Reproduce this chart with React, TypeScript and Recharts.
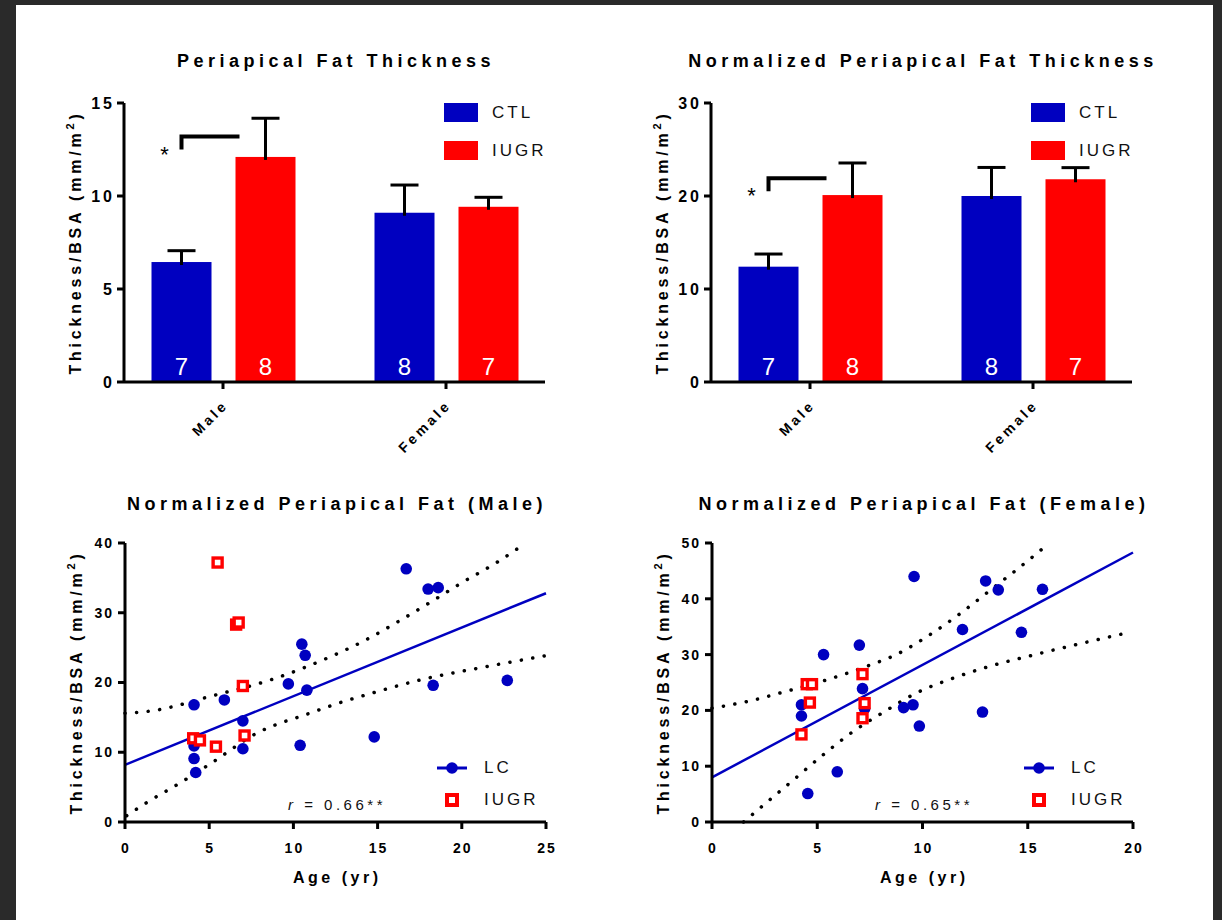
import React from "react";
import {
  BarChart,
  Bar,
  ComposedChart,
  Line,
  Scatter,
  XAxis,
  YAxis,
  Legend,
  LabelList,
} from "recharts";

const FONT = '"Liberation Sans", Arial, Helvetica, sans-serif';
const BLUE = "#0000c0";
const RED = "#ff0000";

// ---- bar panels ----
const groups = ["Male", "Female"];
const nCtl = [7, 8];
const nIugr = [8, 7];

const periCtl = [6.45, 9.1];
const periCtlSem = [0.61, 1.49];
const periIugr = [12.1, 9.42];
const periIugrSem = [2.08, 0.51];
const periSig = [12.5, 13.2]; // bracket bottom / top

const normCtl = [12.4, 20.0];
const normCtlSem = [1.36, 3.07];
const normIugr = [20.1, 21.8];
const normIugrSem = [3.45, 1.25];
const normSig = [20.5, 21.9];

// ---- scatter panels (age yr, thickness/BSA) ----
const lcMaleAge = [4.1, 4.1, 4.1, 4.2, 5.9, 7.0, 7.0, 9.7, 10.5, 10.7, 10.8, 10.4, 16.7, 18.0, 18.6, 18.3, 22.7, 14.8];
const lcMaleFat = [16.8, 10.9, 9.1, 7.1, 17.5, 14.5, 10.5, 19.8, 25.5, 23.9, 18.9, 11.0, 36.3, 33.4, 33.6, 19.6, 20.3, 12.2];
const iugrMaleAge = [5.5, 6.6, 6.75, 7.0, 4.05, 4.45, 5.4, 7.1];
const iugrMaleFat = [37.2, 28.3, 28.6, 19.5, 12.0, 11.7, 10.8, 12.4];

const lcFemaleAge = [4.25, 4.25, 4.55, 5.3, 5.95, 7.0, 7.15, 7.25, 9.1, 9.55, 9.6, 9.85, 11.9, 12.85, 13.0, 13.6, 14.7, 15.7];
const lcFemaleFat = [21.0, 19.0, 5.1, 30.0, 9.0, 31.7, 23.9, 20.3, 20.5, 21.0, 44.0, 17.2, 34.5, 19.7, 43.2, 41.6, 34.0, 41.7];
const iugrFemaleAge = [4.25, 4.65, 4.5, 4.75, 7.15, 7.25, 7.15];
const iugrFemaleFat = [15.7, 21.4, 24.7, 24.7, 26.5, 21.3, 18.6];

// regression lines and 95% bands
const fitMaleX = [0, 25];
const fitMaleY = [8.2, 32.8];
const upMaleX = [0, 1.5, 5.2, 8.8, 12.2, 14.3, 16.2, 18.2, 20, 22, 23.8];
const upMaleY = [15.6, 15.9, 18.1, 20.5, 23.7, 26.1, 28.7, 31.6, 34.3, 37.1, 40];
const loMaleX = [0.1, 1.3, 3.2, 5.1, 7.8, 11.1, 12.5, 14.7, 17.6, 21.3, 24.9];
const loMaleY = [0.9, 2.8, 5.5, 8.4, 12.7, 15.7, 16.9, 18.5, 20.4, 22.2, 23.8];

const fitFemaleX = [0, 20];
const fitFemaleY = [8.0, 48.3];
const upFemaleX = [0, 1.8, 3.6, 5.3, 7.5, 8.7, 10.2, 11.7, 13.1, 14.5, 15.9];
const upFemaleY = [20.4, 21.7, 23.5, 25.3, 28.1, 29.9, 33.2, 37.1, 41.2, 45.3, 49.6];
const loFemaleX = [1.5, 2.5, 3.9, 5.2, 6.7, 8.2, 9.7, 11.4, 13.1, 15.4, 17.2, 19.5];
const loFemaleY = [0, 3.2, 7.65, 11.8, 16.2, 19.8, 23.1, 25.7, 27.8, 30.05, 31.7, 33.7];

const pts = (xs: number[], ys: number[]) => xs.map((x, i) => ({ x, y: ys[i] }));

const barRows = (ctl: number[], ctlSem: number[], iugr: number[], iugrSem: number[]) =>
  groups.map((g, i) => ({
    group: g,
    ctl: ctl[i],
    ctlSem: ctlSem[i],
    iugr: iugr[i],
    iugrSem: iugrSem[i],
    nCtl: nCtl[i],
    nIugr: nIugr[i],
  }));

const MARGIN = { top: 103, right: 55, bottom: 18, left: 64 };
const axisStroke = { stroke: "#000", strokeWidth: 3 };

// bar with one-sided SEM whisker (and optional significance bracket)
const barShape = (valueKey: string, semKey: string, sig?: number[]) => (props: any) => {
  const { x, y, width, height, fill, payload, index } = props;
  const ppu = height / payload[valueKey];
  const cx = x + width / 2;
  const top = y - payload[semKey] * ppu;
  const base = y + height;
  return (
    <g>
      <rect x={x} y={y} width={width} height={height} fill={fill} />
      <line x1={cx} y1={y + 3} x2={cx} y2={top} stroke="#000" strokeWidth={3} />
      <line x1={cx - 14} y1={top} x2={cx + 14} y2={top} stroke="#000" strokeWidth={3} />
      {sig && index === 0 && (
        <g>
          <path
            d={`M${cx},${base - sig[0] * ppu} V${base - sig[1] * ppu} H${x + width + 28}`}
            fill="none"
            stroke="#000"
            strokeWidth={4}
          />
          <text
            x={cx - 17}
            y={base - sig[0] * ppu + 12}
            textAnchor="middle"
            fontFamily={FONT}
            fontSize={22}
            fill="#000">
            *
          </text>
        </g>
      )}
    </g>
  );
};

const CatTick = (props: any) => {
  const { x, y, payload } = props;
  const ax = x + 6;
  const ay = y + 15;
  return (
    <text
      x={ax}
      y={ay}
      transform={`rotate(-45 ${ax} ${ay})`}
      textAnchor="end"
      fontFamily={FONT}
      fontWeight="bold"
      fontSize={14}
      letterSpacing={3.2}
      fill="#000">
      {payload.value}
    </text>
  );
};

const yTick = (size: number, ls: number) => (props: any) => {
  const { x, y, payload } = props;
  return (
    <text
      x={x}
      y={y}
      dy="0.355em"
      textAnchor="end"
      fontFamily={FONT}
      fontWeight="bold"
      fontSize={size}
      letterSpacing={ls}
      fill="#000">
      {payload.value}
    </text>
  );
};

const XNumTick = (props: any) => {
  const { x, y, payload } = props;
  return (
    <text
      x={x + 1}
      y={y}
      dy="0.71em"
      textAnchor="middle"
      fontFamily={FONT}
      fontWeight="bold"
      fontSize={14}
      letterSpacing={2}
      fill="#000">
      {payload.value}
    </text>
  );
};

const yTitle = (props: any) => {
  const { x, y, width, height } = props.viewBox;
  const cx = x + width - 49;
  const cy = y + height / 2;
  return (
    <text
      x={cx}
      y={cy}
      dy="0.36em"
      transform={`rotate(-90 ${cx} ${cy})`}
      textAnchor="middle"
      fontFamily={FONT}
      fontWeight="bold"
      fontSize={16}
      letterSpacing={3.8}
      fill="#000">
      Thickness/BSA (mm/m
      <tspan dy={-7} fontSize={11}>
        2
      </tspan>
      <tspan dy={7}>)</tspan>
    </text>
  );
};

const xTitle = (props: any) => {
  const { x, y, width } = props.viewBox;
  return (
    <text
      x={x + width / 2 + 1.75}
      y={y + 61}
      textAnchor="middle"
      fontFamily={FONT}
      fontWeight="bold"
      fontSize={16}
      letterSpacing={3.5}
      fill="#000">
      Age (yr)
    </text>
  );
};

const barLegend = () => (
  <div style={{ fontFamily: FONT, fontSize: 17, letterSpacing: 3, color: "#111" }}>
    {[
      { name: "CTL", color: BLUE },
      { name: "IUGR", color: RED },
    ].map((it) => (
      <div
        key={it.name}
        style={{ display: "flex", alignItems: "center", height: 19, marginBottom: 19 }}>
        <span
          style={{
            display: "inline-block",
            width: 34,
            height: 19,
            background: it.color,
            marginRight: 14,
          }}
        />
        <span>{it.name}</span>
      </div>
    ))}
  </div>
);

const scatterLegend = () => (
  <div style={{ fontFamily: FONT, fontSize: 17, letterSpacing: 3, color: "#111" }}>
    <div style={{ display: "flex", alignItems: "center", height: 20, marginBottom: 12 }}>
      <svg width={30} height={14} style={{ marginRight: 17 }}>
        <line x1={0} y1={7} x2={30} y2={7} stroke={BLUE} strokeWidth={3} />
        <circle cx={15} cy={7} r={5.8} fill={BLUE} />
      </svg>
      <span>LC</span>
    </div>
    <div style={{ display: "flex", alignItems: "center", height: 20 }}>
      <svg width={30} height={16} style={{ marginRight: 17 }}>
        <rect x={10} y={3} width={10} height={10} fill="#fff" stroke={RED} strokeWidth={4} />
      </svg>
      <span>IUGR</span>
    </div>
  </div>
);

const LcDot = (p: any) => <circle cx={p.cx} cy={p.cy} r={5.8} fill={BLUE} />;
const IugrSquare = (p: any) => (
  <rect x={p.cx - 4.5} y={p.cy - 4.5} width={9} height={9} fill="#fff" stroke={RED} strokeWidth={3.4} />
);

function Panel(props: {
  left: number;
  top: number;
  title: string;
  titleTop: number;
  note?: React.ReactNode;
  children: React.ReactNode;
}) {
  return (
    <div style={{ position: "absolute", left: props.left, top: props.top, width: 600, height: 460 }}>
      <div
        style={{
          position: "absolute",
          left: 36,
          top: props.titleTop,
          width: 600,
          textAlign: "center",
          fontFamily: FONT,
          fontWeight: "bold",
          fontSize: 18,
          lineHeight: "20px",
          letterSpacing: 4.5,
          whiteSpace: "nowrap",
          color: "#000",
        }}>
        {props.title}
      </div>
      {props.note}
      {props.children}
    </div>
  );
}

function BarPanel(props: {
  data: any[];
  max: number;
  ticks: number[];
  sig: number[];
}) {
  return (
    <BarChart width={600} height={460} data={props.data} margin={MARGIN} barSize={60} barGap={24}>
      <XAxis
        dataKey="group"
        interval={0}
        height={60}
        tickSize={7}
        axisLine={axisStroke}
        tickLine={axisStroke}
        tick={CatTick}
        padding={{ left: -12.5, right: -12.5 }}
      />
      <YAxis
        width={60}
        domain={[0, props.max]}
        ticks={props.ticks}
        tickSize={7}
        axisLine={axisStroke}
        tickLine={axisStroke}
        tick={yTick(16, 3)}
        label={yTitle}
      />
      <Legend
        content={barLegend}
        layout="horizontal"
        verticalAlign="middle"
        align="center"
        wrapperStyle={{ left: 444, top: 103, width: 150 }}
      />
      <Bar dataKey="ctl" fill={BLUE} isAnimationActive={false} shape={barShape("ctl", "ctlSem", props.sig)}>
        <LabelList dataKey="nCtl" position="insideBottom" offset={7} fill="#fff" fontSize={24} fontFamily={FONT} />
      </Bar>
      <Bar dataKey="iugr" fill={RED} isAnimationActive={false} shape={barShape("iugr", "iugrSem")}>
        <LabelList dataKey="nIugr" position="insideBottom" offset={7} fill="#fff" fontSize={24} fontFamily={FONT} />
      </Bar>
    </BarChart>
  );
}

const dotted = {
  stroke: "#000",
  strokeWidth: 3.5,
  strokeDasharray: "0.1 11.5",
  strokeLinecap: "round" as const,
};

function ScatterPanel(props: {
  xMax: number;
  xTicks: number[];
  yMax: number;
  yTicks: number[];
  lc: any[];
  iugr: any[];
  fit: any[];
  upper: any[];
  lower: any[];
}) {
  return (
    <ComposedChart width={600} height={460} margin={MARGIN}>
      <XAxis
        type="number"
        dataKey="x"
        domain={[0, props.xMax]}
        ticks={props.xTicks}
        height={60}
        tickSize={7}
        tickMargin={14}
        axisLine={axisStroke}
        tickLine={axisStroke}
        tick={XNumTick}
        label={xTitle}
      />
      <YAxis
        type="number"
        dataKey="y"
        width={60}
        domain={[0, props.yMax]}
        ticks={props.yTicks}
        tickSize={7}
        tickMargin={4}
        axisLine={axisStroke}
        tickLine={axisStroke}
        tick={yTick(14, 2)}
        label={yTitle}
      />
      <Line data={props.upper} dataKey="y" type="monotone" dot={false} isAnimationActive={false} {...dotted} />
      <Line data={props.lower} dataKey="y" type="monotone" dot={false} isAnimationActive={false} {...dotted} />
      <Line data={props.fit} dataKey="y" type="linear" dot={false} stroke={BLUE} strokeWidth={2.5} isAnimationActive={false} />
      <Scatter data={props.lc} fill={BLUE} shape={LcDot} isAnimationActive={false} />
      <Scatter data={props.iugr} fill={RED} shape={IugrSquare} isAnimationActive={false} />
      <Legend
        content={scatterLegend}
        layout="horizontal"
        verticalAlign="middle"
        align="center"
        wrapperStyle={{ left: 436, top: 318, width: 150 }}
      />
    </ComposedChart>
  );
}

const RNote = (props: { r: string }) => (
  <div
    style={{
      position: "absolute",
      left: 287,
      top: 356,
      fontFamily: FONT,
      fontSize: 15,
      lineHeight: "18px",
      letterSpacing: 3.5,
      whiteSpace: "nowrap",
      color: "#111",
      zIndex: 2,
    }}>
    <i>r</i> = {props.r}**
  </div>
);

export default function App() {
  return (
    <div
      style={{
        position: "absolute",
        left: 0,
        top: 0,
        width: 1222,
        height: 920,
        background: "#2a2a2a",
        overflow: "hidden",
      }}>
      <div
        style={{
          position: "absolute",
          left: 16,
          top: 5,
          width: 1197,
          height: 915,
          background: "#fff",
        }}
      />
      <Panel left={0} top={0} title="Periapical Fat Thickness" titleTop={51}>
        <BarPanel
          data={barRows(periCtl, periCtlSem, periIugr, periIugrSem)}
          max={15}
          ticks={[0, 5, 10, 15]}
          sig={periSig}
        />
      </Panel>
      <Panel left={587} top={0} title="Normalized Periapical Fat Thickness" titleTop={51}>
        <BarPanel
          data={barRows(normCtl, normCtlSem, normIugr, normIugrSem)}
          max={30}
          ticks={[0, 10, 20, 30]}
          sig={normSig}
        />
      </Panel>
      <Panel
        left={1}
        top={440}
        title="Normalized Periapical Fat (Male)"
        titleTop={54}
        note={<RNote r="0.66" />}>
        <ScatterPanel
          xMax={25}
          xTicks={[0, 5, 10, 15, 20, 25]}
          yMax={40}
          yTicks={[0, 10, 20, 30, 40]}
          lc={pts(lcMaleAge, lcMaleFat)}
          iugr={pts(iugrMaleAge, iugrMaleFat)}
          fit={pts(fitMaleX, fitMaleY)}
          upper={pts(upMaleX, upMaleY)}
          lower={pts(loMaleX, loMaleY)}
        />
      </Panel>
      <Panel
        left={588}
        top={440}
        title="Normalized Periapical Fat (Female)"
        titleTop={54}
        note={<RNote r="0.65" />}>
        <ScatterPanel
          xMax={20}
          xTicks={[0, 5, 10, 15, 20]}
          yMax={50}
          yTicks={[0, 10, 20, 30, 40, 50]}
          lc={pts(lcFemaleAge, lcFemaleFat)}
          iugr={pts(iugrFemaleAge, iugrFemaleFat)}
          fit={pts(fitFemaleX, fitFemaleY)}
          upper={pts(upFemaleX, upFemaleY)}
          lower={pts(loFemaleX, loFemaleY)}
        />
      </Panel>
    </div>
  );
}
